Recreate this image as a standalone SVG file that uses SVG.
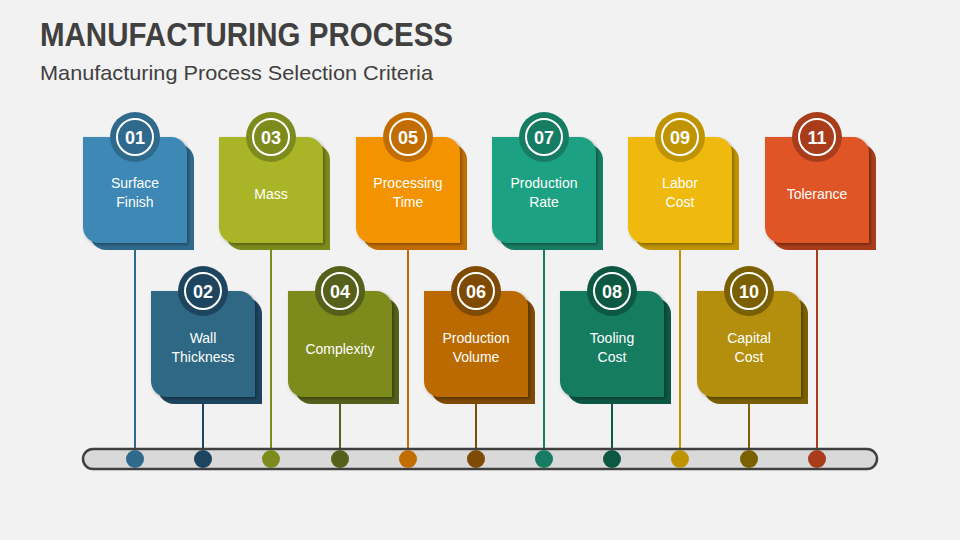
<svg xmlns="http://www.w3.org/2000/svg" width="960" height="540" viewBox="0 0 960 540">
<defs>
<style>
.title{font-family:"Liberation Sans",Arial,sans-serif;font-weight:bold;font-size:33px;fill:#404040}
.sub{font-family:"Liberation Sans",Arial,sans-serif;font-size:21px;fill:#404040}
.lbl{font-family:"Liberation Sans",Arial,sans-serif;font-size:14px;fill:#ffffff;text-anchor:middle}
.num{font-family:"Liberation Sans",Arial,sans-serif;font-weight:bold;font-size:18px;fill:#ffffff;text-anchor:middle}
.ring{fill:none;stroke:#ffffff;stroke-width:2}
.conn line{stroke-width:2}
</style>
<path id="card" d="M0 0 H88 A16 16 0 0 1 104 16 V106 H16 A16 16 0 0 1 0 90 Z"/>
<filter id="sh" x="-10%" y="-10%" width="130%" height="130%">
<feDropShadow dx="1.5" dy="1.5" stdDeviation="1.5" flood-color="#000" flood-opacity="0.35"/>
</filter>
</defs>
<rect width="960" height="540" fill="#f2f2f2"/>
<text class="title" x="40" y="46" textLength="413" lengthAdjust="spacingAndGlyphs">MANUFACTURING PROCESS</text>
<text class="sub" x="40" y="80" textLength="393" lengthAdjust="spacingAndGlyphs">Manufacturing Process Selection Criteria</text>

<g id="connectors" class="conn">
<line x1="135" y1="245" x2="135" y2="459" stroke="#2f6a8c"/>
<line x1="203" y1="400" x2="203" y2="459" stroke="#1e4560"/>
<line x1="271" y1="245" x2="271" y2="459" stroke="#7d8b1c"/>
<line x1="340" y1="400" x2="340" y2="459" stroke="#55601a"/>
<line x1="408" y1="245" x2="408" y2="459" stroke="#c26d02"/>
<line x1="476" y1="400" x2="476" y2="459" stroke="#7e4a04"/>
<line x1="544" y1="245" x2="544" y2="459" stroke="#167c63"/>
<line x1="612" y1="400" x2="612" y2="459" stroke="#0d5843"/>
<line x1="680" y1="245" x2="680" y2="459" stroke="#bf9400"/>
<line x1="749" y1="400" x2="749" y2="459" stroke="#7a6003"/>
<line x1="817" y1="245" x2="817" y2="459" stroke="#a83c1b"/>
</g>

<g id="timeline">
<rect x="83" y="449" width="794" height="20" rx="10" fill="#d9d9d9" stroke="#404040" stroke-width="2.5"/>
<circle cx="135" cy="459" r="9" fill="#2f6a8c"/>
<circle cx="203" cy="459" r="9" fill="#1e4560"/>
<circle cx="271" cy="459" r="9" fill="#7d8b1c"/>
<circle cx="340" cy="459" r="9" fill="#55601a"/>
<circle cx="408" cy="459" r="9" fill="#c26d02"/>
<circle cx="476" cy="459" r="9" fill="#7e4a04"/>
<circle cx="544" cy="459" r="9" fill="#167c63"/>
<circle cx="612" cy="459" r="9" fill="#0d5843"/>
<circle cx="680" cy="459" r="9" fill="#bf9400"/>
<circle cx="749" cy="459" r="9" fill="#7a6003"/>
<circle cx="817" cy="459" r="9" fill="#a83c1b"/>
</g>

<g id="node01">
<use href="#card" x="90" y="144" fill="#2f6a8c"/>
<use href="#card" x="83" y="137" fill="#3e88b5" filter="url(#sh)"/>
<circle cx="135" cy="137" r="25" fill="#2f6a8c"/><circle class="ring" cx="135" cy="137" r="18"/>
<text class="num" x="135" y="143.5">01</text>
<text class="lbl" x="135" y="188">Surface</text><text class="lbl" x="135" y="207">Finish</text>
</g>

<g id="node02">
<use href="#card" x="158" y="298" fill="#1e4560"/>
<use href="#card" x="151" y="291" fill="#2f6784" filter="url(#sh)"/>
<circle cx="203" cy="291" r="25" fill="#1e4560"/><circle class="ring" cx="203" cy="291" r="18"/>
<text class="num" x="203" y="297.5">02</text>
<text class="lbl" x="203" y="343">Wall</text><text class="lbl" x="203" y="362">Thickness</text>
</g>

<g id="node03">
<use href="#card" x="226" y="144" fill="#7d8b1c"/>
<use href="#card" x="219" y="137" fill="#a9b525" filter="url(#sh)"/>
<circle cx="271" cy="137" r="25" fill="#7d8b1c"/><circle class="ring" cx="271" cy="137" r="18"/>
<text class="num" x="271" y="143.5">03</text>
<text class="lbl" x="271" y="199">Mass</text>
</g>

<g id="node04">
<use href="#card" x="295" y="298" fill="#55601a"/>
<use href="#card" x="288" y="291" fill="#7d8a1f" filter="url(#sh)"/>
<circle cx="340" cy="291" r="25" fill="#55601a"/><circle class="ring" cx="340" cy="291" r="18"/>
<text class="num" x="340" y="297.5">04</text>
<text class="lbl" x="340" y="354">Complexity</text>
</g>

<g id="node05">
<use href="#card" x="363" y="144" fill="#c26d02"/>
<use href="#card" x="356" y="137" fill="#f49300" filter="url(#sh)"/>
<circle cx="408" cy="137" r="25" fill="#c26d02"/><circle class="ring" cx="408" cy="137" r="18"/>
<text class="num" x="408" y="143.5">05</text>
<text class="lbl" x="408" y="188">Processing</text><text class="lbl" x="408" y="207">Time</text>
</g>

<g id="node06">
<use href="#card" x="431" y="298" fill="#7e4a04"/>
<use href="#card" x="424" y="291" fill="#ba6a03" filter="url(#sh)"/>
<circle cx="476" cy="291" r="25" fill="#7e4a04"/><circle class="ring" cx="476" cy="291" r="18"/>
<text class="num" x="476" y="297.5">06</text>
<text class="lbl" x="476" y="343">Production</text><text class="lbl" x="476" y="362">Volume</text>
</g>

<g id="node07">
<use href="#card" x="499" y="144" fill="#167c63"/>
<use href="#card" x="492" y="137" fill="#1ea283" filter="url(#sh)"/>
<circle cx="544" cy="137" r="25" fill="#167c63"/><circle class="ring" cx="544" cy="137" r="18"/>
<text class="num" x="544" y="143.5">07</text>
<text class="lbl" x="544" y="188">Production</text><text class="lbl" x="544" y="207">Rate</text>
</g>

<g id="node08">
<use href="#card" x="567" y="298" fill="#0d5843"/>
<use href="#card" x="560" y="291" fill="#177b61" filter="url(#sh)"/>
<circle cx="612" cy="291" r="25" fill="#0d5843"/><circle class="ring" cx="612" cy="291" r="18"/>
<text class="num" x="612" y="297.5">08</text>
<text class="lbl" x="612" y="343">Tooling</text><text class="lbl" x="612" y="362">Cost</text>
</g>

<g id="node09">
<use href="#card" x="635" y="144" fill="#bf9400"/>
<use href="#card" x="628" y="137" fill="#efba0f" filter="url(#sh)"/>
<circle cx="680" cy="137" r="25" fill="#bf9400"/><circle class="ring" cx="680" cy="137" r="18"/>
<text class="num" x="680" y="143.5">09</text>
<text class="lbl" x="680" y="188">Labor</text><text class="lbl" x="680" y="207">Cost</text>
</g>

<g id="node10">
<use href="#card" x="704" y="298" fill="#7a6003"/>
<use href="#card" x="697" y="291" fill="#b38f08" filter="url(#sh)"/>
<circle cx="749" cy="291" r="25" fill="#7a6003"/><circle class="ring" cx="749" cy="291" r="18"/>
<text class="num" x="749" y="297.5">10</text>
<text class="lbl" x="749" y="343">Capital</text><text class="lbl" x="749" y="362">Cost</text>
</g>

<g id="node11">
<use href="#card" x="772" y="144" fill="#a83c1b"/>
<use href="#card" x="765" y="137" fill="#df5527" filter="url(#sh)"/>
<circle cx="817" cy="137" r="25" fill="#a83c1b"/><circle class="ring" cx="817" cy="137" r="18"/>
<text class="num" x="817" y="143.5">11</text>
<text class="lbl" x="817" y="199">Tolerance</text>
</g>
</svg>
